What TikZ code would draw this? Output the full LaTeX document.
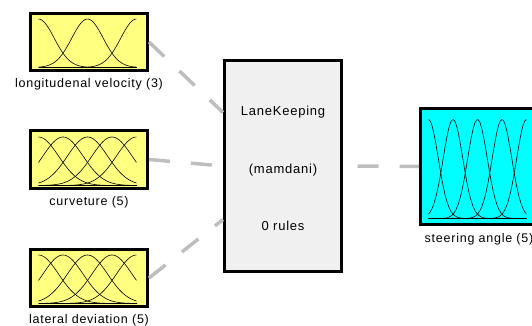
\documentclass[tikz,border=0pt]{standalone}
\usepackage{fontspec}
\setmainfont{Liberation Sans}
\newfontfamily\GuiFont[LetterSpace=6]{Liberation Sans}
\usetikzlibrary{calc,positioning}
\definecolor{MFYellow}{RGB}{255,255,128}
\definecolor{MFCyan}{RGB}{0,255,255}
\definecolor{RuleGray}{RGB}{240,240,240}
\definecolor{LinkGray}{RGB}{190,190,190}
\tikzset{
    varbox/.style={draw=black, line width=3pt, minimum width=117pt, inner sep=0pt},
    varlabel/.style={font=\GuiFont\fontsize{12.5}{14}\selectfont, inner sep=1pt},
    ruletext/.style={font=\GuiFont\fontsize{13}{15}\selectfont, inner sep=1pt},
    link/.style={LinkGray, line width=3.5pt, dash pattern=on 21pt off 21pt},
    mfline/.style={black, line width=0.6pt},
}
% gaussian membership functions inside a variable box
% #1 node, #2 number of sets, #3 sigma, #4 baseline, #5 height
\NewDocumentCommand{\MFSet}{m m m m m}{
    \begin{scope}[shift={(#1.south west)}]
    \draw[mfline] (9.5,#4) -- (107.5,#4);
    \foreach \mf in {1,...,#2}{
        \draw[mfline, domain=0:1, samples=60, variable=\t]
            plot ({9.5+98*\t}, {#4+#5*exp(-((\t-(\mf-1)/(#2-1))^2)/(2*#3*#3))});
    }
    \end{scope}
}

\begin{document}
\begin{tikzpicture}[x=1pt, y=1pt]
\useasboundingbox (0,0) rectangle (532,325);

% inputs
\node[varbox, fill=MFYellow, minimum height=57pt] (lonvel) at (89,283) {};
\node[varbox, fill=MFYellow, minimum height=58pt] (curv) at (89,165.5) {};
\node[varbox, fill=MFYellow, minimum height=57pt] (latdev) at (89,47) {};
\node[varlabel, below=5.5pt of lonvel] (lonvel-label) {longitudenal velocity (3)};
\node[varlabel, below=5.5pt of curv] (curv-label) {curveture (5)};
\node[varlabel, below=5.5pt of latdev] (latdev-label) {lateral deviation (5)};

\MFSet{lonvel}{3}{0.16}{4.5}{48.5}
\MFSet{curv}{5}{0.205}{4.5}{48.5}
\MFSet{latdev}{5}{0.205}{4.5}{48.5}

% rule block
\node[varbox, fill=RuleGray, minimum height=211pt] (rules) at (283,159) {};
\node[ruletext] (rules-name) at ($(rules.north)!0.25!(rules.south)$) {LaneKeeping};
\node[ruletext] (rules-type) at ($(rules.north)!0.52!(rules.south)$) {(mamdani)};
\node[ruletext] (rules-count) at ($(rules.north)!0.78!(rules.south)$) {0 rules};

% output
\node[varbox, fill=MFCyan, minimum height=116pt] (steer) at (479,158.5) {};
\node[varlabel, below=6pt of steer] (steer-label) {steering angle (5)};
\MFSet{steer}{5}{0.1}{7.5}{99}

\draw[link] (lonvel.east) -- ($(rules.north west)!0.25!(rules.south west)$);
\draw[link] (curv.east) -- (rules.west);
\draw[link] (latdev.east) -- ($(rules.north west)!0.75!(rules.south west)$);
\draw[link, dash phase=27.5pt] (rules.east) -- (steer.west);
\end{tikzpicture}
\end{document}
